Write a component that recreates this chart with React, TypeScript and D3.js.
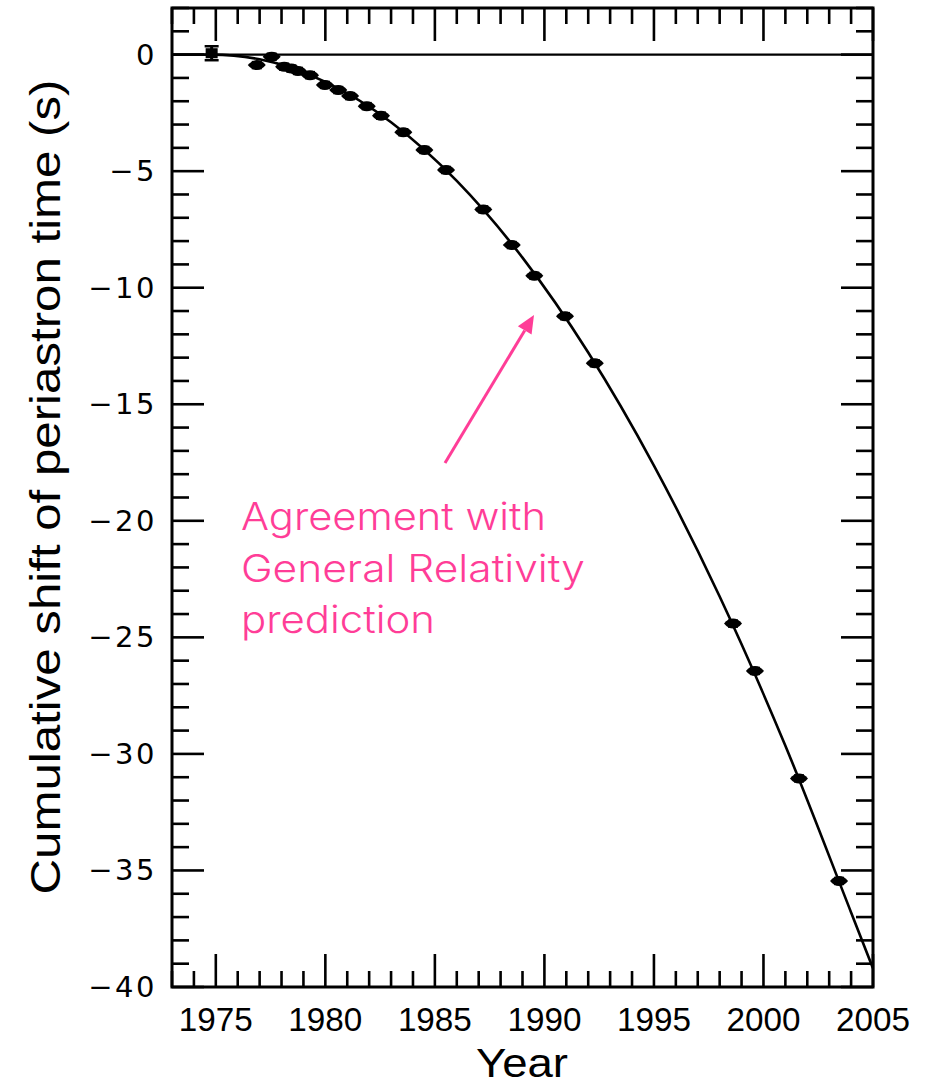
import React from "react";
import * as d3 from "d3";

// Observed cumulative periastron shift of PSR B1913+16 (year, seconds, 1σ error)
const obsYears = [
  1974.81, 1976.87, 1977.55, 1978.12, 1978.45, 1978.75, 1979.3, 1979.98, 1980.59, 1981.13,
  1981.89, 1982.54, 1983.56, 1984.52, 1985.51, 1987.21, 1988.51, 1989.54, 1990.94, 1992.3,
  1998.61, 1999.61, 2001.62, 2003.45,
];
const obsShift = [
  0.06, -0.45, -0.09, -0.52, -0.6, -0.7, -0.88, -1.3, -1.52, -1.78,
  -2.21, -2.62, -3.33, -4.09, -4.95, -6.64, -8.17, -9.49, -11.22, -13.24,
  -24.41, -26.44, -31.05, -35.45,
];
const obsError = [
  0.3, 0.12, 0.12, 0.12, 0.1, 0.1, 0.1, 0.1, 0.1, 0.1,
  0.1, 0.1, 0.1, 0.1, 0.1, 0.1, 0.1, 0.1, 0.1, 0.1,
  0.1, 0.1, 0.1, 0.1,
];

// General Relativity prediction curve (year, seconds)
const grYears = [1973, 1974.8, 1977, 1980, 1983, 1986, 1989, 1992, 1995, 1998, 2001, 2004, 2005];
const grShift = [0, 0, -0.2, -1.17, -2.9, -5.42, -8.71, -12.78, -17.63, -23.25, -29.65, -36.8, -39.2];

const xTickLabels = [1975, 1980, 1985, 1990, 1995, 2000, 2005];
const yTickLabels = [0, -5, -10, -15, -20, -25, -30, -35, -40];

const annotationLines = ["Agreement with", "General Relativity", "prediction"];
const annotationWidths = [305, 344, 194];

const W = 936;
const H = 1084;
const left = 172;
const right = 873;
const top = 8;
const bottom = 987;
const PINK = "#ff3d97";

export default function App() {
  const x = d3.scaleLinear().domain([1973, 2005]).range([left, right]);
  const y = d3.scaleLinear().domain([-40, 2]).range([bottom, top]);

  const grData = grYears.map((t, i) => [t, grShift[i]] as [number, number]);
  const line = d3
    .line<[number, number]>()
    .x((d) => x(d[0]))
    .y((d) => y(d[1]))
    .curve(d3.curveMonotoneX);

  const xMinor = d3.range(1973, 2006, 1);
  const yMinor = d3.range(-40, 3, 1);

  const ax = 445, ay = 463, bx = 534, by = 315;
  const ang = Math.atan2(by - ay, bx - ax);
  const hl = 18, hw = 8;
  const hx = bx - hl * Math.cos(ang), hy = by - hl * Math.sin(ang);
  const head = [
    [bx, by],
    [hx + hw * Math.sin(ang), hy - hw * Math.cos(ang)],
    [hx - hw * Math.sin(ang), hy + hw * Math.cos(ang)],
  ];

  // filled marker: a flat diamond-like blob
  const marker = (cx: number, cy: number) =>
    `M${cx - 9},${cy} Q${cx - 5},${cy - 5} ${cx},${cy - 5} Q${cx + 5},${cy - 5} ${cx + 9},${cy} Q${cx + 5},${cy + 5} ${cx},${cy + 5} Q${cx - 5},${cy + 5} ${cx - 9},${cy} Z`;

  return (
    <svg width={W} height={H} viewBox={`0 0 ${W} ${H}`} style={{ display: "block", position: "absolute", left: 0, top: 0, background: "#fff" }}>
      <defs>
        <clipPath id="plotClip">
          <rect x={left} y={top} width={right - left} height={bottom - top} />
        </clipPath>
      </defs>
      <rect x={0} y={0} width={W} height={H} fill="#fff" />

      {/* zero reference line */}
      <line x1={left} x2={right} y1={y(0)} y2={y(0)} stroke="#000" strokeWidth={2.2} />

      {/* ticks on all four sides, pointing inward */}
      <g stroke="#000" strokeWidth={2.6}>
        {xMinor.map((t) => {
          const major = t % 5 === 0;
          const len = major ? 33 : 16;
          return (
            <g key={"xt" + t}>
              <line x1={x(t)} x2={x(t)} y1={bottom} y2={bottom - len} />
              <line x1={x(t)} x2={x(t)} y1={top} y2={top + len} />
            </g>
          );
        })}
        {yMinor.map((v) => {
          const major = v % 5 === 0;
          const len = major ? 32 : 17;
          return (
            <g key={"yt" + v}>
              <line x1={left} x2={left + len} y1={y(v)} y2={y(v)} />
              <line x1={right} x2={right - len} y1={y(v)} y2={y(v)} />
            </g>
          );
        })}
      </g>

      {/* prediction curve */}
      <path d={line(grData) ?? ""} fill="none" stroke="#000" strokeWidth={2.6} clipPath="url(#plotClip)" />

      {/* observations */}
      <g fill="#000" stroke="#000">
        {obsYears.map((t, i) => {
          const cx = x(t);
          const cy = y(obsShift[i]);
          const e = Math.max(3, y(obsShift[i] - obsError[i]) - cy);
          const cw = i === 0 ? 7 : 5;
          return (
            <g key={"p" + i}>
              <line x1={cx} x2={cx} y1={cy - e} y2={cy + e} strokeWidth={3} />
              <line x1={cx - cw} x2={cx + cw} y1={cy - e} y2={cy - e} strokeWidth={2.5} />
              <line x1={cx - cw} x2={cx + cw} y1={cy + e} y2={cy + e} strokeWidth={2.5} />
              {i === 0 ? (
                <rect x={cx - 6} y={cy - 5} width={12} height={10} stroke="none" />
              ) : (
                <path d={marker(cx, cy)} stroke="none" />
              )}
            </g>
          );
        })}
      </g>

      {/* frame */}
      <rect x={left} y={top} width={right - left} height={bottom - top} fill="none" stroke="#000" strokeWidth={3} />

      {/* x tick labels */}
      <g fontFamily="'Liberation Sans', Arial, sans-serif" fontSize={33} fill="#000" textAnchor="middle">
        {xTickLabels.map((t) => (
          <text key={"xl" + t} x={x(t)} y={1031} textLength={74} lengthAdjust="spacingAndGlyphs">
            {t}
          </text>
        ))}
      </g>

      {/* y tick labels */}
      <g fontFamily="'DejaVu Sans', sans-serif" fontSize={29} fill="#000" textAnchor="end">
        {yTickLabels.map((v) => (
          <text key={"yl" + v} x={157} y={y(v) + 10} letterSpacing={2.5}>
            {v < 0 ? "\u2212" + Math.abs(v) : String(v)}
          </text>
        ))}
      </g>

      {/* axis titles */}
      <text x={522} y={1077} textAnchor="middle" fontFamily="'Liberation Sans', Arial, sans-serif" fontSize={40} textLength={92} lengthAdjust="spacingAndGlyphs">
        Year
      </text>
      <text
        transform={`translate(60, 487) rotate(-90)`}
        textAnchor="middle"
        fontFamily="'Liberation Sans', Arial, sans-serif"
        fontSize={43}
        textLength={815}
        lengthAdjust="spacingAndGlyphs"
      >
        Cumulative shift of periastron time (s)
      </text>

      {/* annotation */}
      <line x1={ax} y1={ay} x2={hx} y2={hy} stroke={PINK} strokeWidth={3} />
      <polygon points={head.map((p) => p.join(",")).join(" ")} fill={PINK} />
      <g fontFamily="Inter, Lato, sans-serif" fontSize={38} fill={PINK} fontWeight={300}>
        {annotationLines.map((s, i) => (
          <text key={"a" + i} x={241} y={530 + i * 51.5} textLength={annotationWidths[i]} lengthAdjust="spacingAndGlyphs">
            {s}
          </text>
        ))}
      </g>
    </svg>
  );
}
